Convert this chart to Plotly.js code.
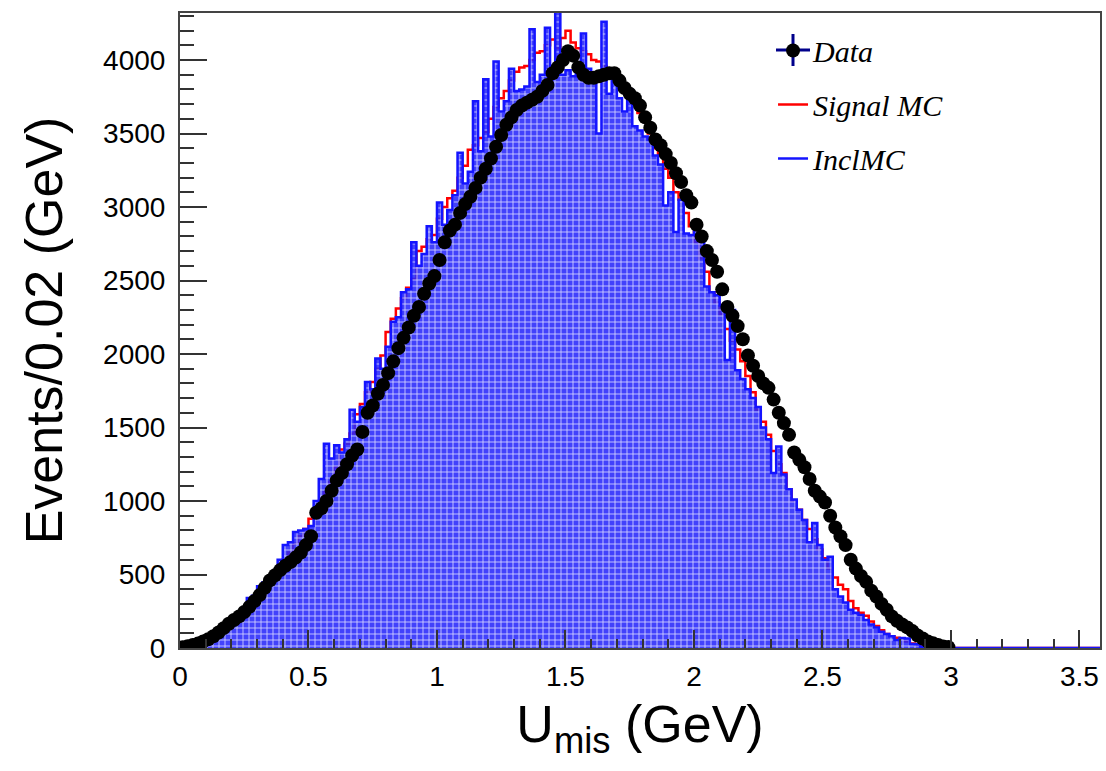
<!DOCTYPE html>
<html>
<head>
<meta charset="utf-8">
<script src="https://cdn.plot.ly/plotly-3.0.1.min.js"></script>
<style>
  html, body { margin: 0; padding: 0; background: #ffffff; }
  #chart { width: 1106px; height: 771px; }
</style>
</head>
<body>
<div id="chart"></div>
<script>
// ---- Histogram binning (GeV) ----
const binLow = 0.0;
const binWidth = 0.02;
const histEnd = 3.6;   // histogram range upper edge (bins beyond the data are empty)

// ---- Data (events per 0.02 GeV bin, bins from 0.00 to 3.00) ----
const dataCounts = [
  5, 12, 20, 30, 45, 60, 80, 105, 135, 165,
  190, 215, 245, 280, 320, 360, 410, 460, 495, 530,
  560, 585, 615, 650, 700, 760, 920, 950, 1000, 1070,
  1140, 1190, 1250, 1310, 1350, 1470, 1600, 1650, 1730, 1790,
  1870, 1950, 2040, 2110, 2180, 2260, 2320, 2410, 2480, 2530,
  2640, 2760, 2840, 2880, 2960, 3020, 3070, 3130, 3200, 3260,
  3330, 3410, 3490, 3560, 3610, 3660, 3690, 3710, 3730, 3750,
  3790, 3830, 3910, 3950, 4000, 4060, 4030, 3950, 3900, 3880,
  3880, 3890, 3900, 3910, 3910, 3860, 3810, 3770, 3740, 3690,
  3610, 3540, 3460, 3420, 3360, 3300, 3230, 3170, 3080, 3030,
  2880, 2800, 2700, 2640, 2560, 2440, 2320, 2260, 2190, 2100,
  1990, 1920, 1850, 1800, 1770, 1690, 1600, 1530, 1450, 1330,
  1280, 1230, 1150, 1070, 1030, 990, 900, 820, 760, 700,
  600, 540, 490, 450, 390, 350, 300, 260, 215, 185,
  160, 140, 115, 85, 65, 45, 32, 20, 10, 6
];

// ---- Signal MC ----
const signalMC = [
  3, 8, 15, 25, 38, 50, 60, 85, 115, 150,
  175, 200, 235, 280, 330, 360, 400, 430, 480, 540,
  600, 650, 710, 760, 810, 880, 930, 1000, 1060, 1130,
  1230, 1350, 1390, 1460, 1590, 1660, 1740, 1810, 1900, 1990,
  2150, 2240, 2310, 2380, 2450, 2510, 2700, 2730, 2780, 2810,
  2920, 3000, 3060, 3110, 3200, 3280, 3390, 3420, 3470, 3510,
  3600, 3680, 3740, 3790, 3860, 3920, 3950, 3960, 4000, 4050,
  4060, 4100, 4140, 4080, 4150, 4200, 4120, 4080, 4060, 4040,
  4000, 3990, 3960, 3940, 3880, 3850, 3800, 3760, 3700, 3640,
  3590, 3500, 3400, 3350, 3260, 3200, 3100, 3050, 2960, 2870,
  2760, 2650, 2560, 2420, 2350, 2270, 2170, 2090, 2030, 1950,
  1850, 1740, 1620, 1540, 1450, 1340, 1250, 1190, 1080, 1000,
  940, 870, 810, 740, 670, 610, 540, 480, 430, 400,
  320, 270, 240, 220, 180, 150, 120, 95, 80, 70,
  65, 45, 30, 18, 10, 5, 2, 1, 0, 0
];

// ---- Inclusive MC ----
const inclMC = [
  10, 15, 25, 40, 60, 75, 85, 100, 150, 165,
  175, 195, 270, 340, 355, 420, 445, 455, 470, 600,
  700, 720, 790, 800, 810, 830, 1000, 1150, 1390, 1290,
  1380, 1330, 1420, 1620, 1540, 1640, 1810, 1760, 1970, 1900,
  2050, 2220, 2250, 2420, 2440, 2760, 2600, 2680, 2870, 2760,
  3030, 2880, 2980, 3080, 3370, 3160, 3240, 3720, 3380, 3870,
  3480, 3990, 3650, 3720, 3940, 3790, 3800, 3820, 4210, 3850,
  3900, 4220, 3960, 4330, 3900, 3930, 3890, 3950, 4180, 3940,
  3900, 3500, 4260, 3770, 3870, 3740, 3650, 3800, 3550, 3520,
  3480, 3460, 3350, 3290, 3010, 3100, 2830, 3050, 2820, 2810,
  2890, 2780, 2460, 2420, 2400, 2330, 1960, 2300, 1890, 1830,
  1760, 1700, 1640, 1500, 1420, 1190, 1370, 1180, 1080, 1010,
  940, 870, 720, 850, 700, 600, 620, 400, 350, 310,
  260, 240, 225, 190, 160, 140, 110, 95, 80, 55,
  68, 65, 27, 25, 8, 3, 0, 0, 0, 0
];

// ---- Names / labels ----
const seriesNames = ['Data', 'Signal MC', 'InclMC'];
const xTickVals = [0, 0.5, 1, 1.5, 2, 2.5, 3, 3.5];
const xTickText = ['0', '0.5', '1', '1.5', '2', '2.5', '3', '3.5'];
const yTickVals = [0, 500, 1000, 1500, 2000, 2500, 3000, 3500, 4000];
const yTickText = ['0', '500', '1000', '1500', '2000', '2500', '3000', '3500', '4000'];
const xTitle = 'U<sub>mis</sub> (GeV)';
const yTitle = 'Events/0.02 (GeV)';

// ---- Build step outlines from bin edges ----
const centers = dataCounts.map((_, i) => binLow + binWidth * (i + 0.5));
function stepXY(counts) {
  const xs = [binLow], ys = [0];
  counts.forEach((v, i) => { xs.push(binLow + binWidth * i); ys.push(v); });
  xs.push(binLow + binWidth * counts.length); ys.push(0);
  xs.push(histEnd); ys.push(0);
  return { xs, ys };
}
const sig = stepXY(signalMC);
const inc = stepXY(inclMC);

const RED = '#ff0000';
const BLUE = '#1414ff';
const ERRBLUE = '#00008b';

const traces = [
  {
    type: 'scatter', mode: 'lines', name: seriesNames[1],
    x: sig.xs, y: sig.ys,
    line: { color: RED, width: 2.5, shape: 'hv' },
    showlegend: false, hoverinfo: 'skip'
  },
  {
    type: 'scatter', mode: 'lines', name: seriesNames[2],
    x: inc.xs, y: inc.ys,
    line: { color: BLUE, width: 2.5, shape: 'hv' },
    fill: 'tozeroy',
    fillcolor: 'rgba(30,30,255,0.85)',
    fillpattern: { shape: '+', fgcolor: 'rgba(235,235,255,0.9)', bgcolor: 'rgba(40,40,250,0.88)', size: 6, solidity: 0.25 },
    showlegend: false, hoverinfo: 'skip'
  },
  {
    type: 'scatter', mode: 'markers', name: seriesNames[0],
    x: centers, y: dataCounts,
    marker: { color: '#000000', size: 14, symbol: 'circle' },
    legendgroup: 'g1', legendrank: 1
  },
  // legend entries for the MC histograms (line icons)
  {
    type: 'scatter', mode: 'lines', name: seriesNames[1],
    x: [null], y: [null], line: { color: RED, width: 2.5 },
    legendgroup: 'g2', legendrank: 2
  },
  {
    type: 'scatter', mode: 'lines', name: seriesNames[2],
    x: [null], y: [null], line: { color: BLUE, width: 2.5 },
    legendgroup: 'g3', legendrank: 3
  }
];

const axisFont = { family: 'Liberation Sans, Arial, Helvetica, sans-serif', size: 28, color: '#000' };
const titleFont = { family: 'Liberation Sans, Arial, Helvetica, sans-serif', size: 52, color: '#000' };

// legend icon position (pixels in the figure) for the error-bar cross of the Data entry
const W = 1106, H = 771, ML = 180, MR = 6, MT = 13, MB = 123;
const pw = W - ML - MR, ph = H - MT - MB;
const crossCx = 793, crossCy = 50, crossHalfW = 17, crossHalfH = 16;
const px2x = p => (p - ML) / pw;
const py2y = p => (H - MB - p) / ph;

const layout = {
  width: W, height: H,
  paper_bgcolor: '#ffffff', plot_bgcolor: '#ffffff',
  margin: { l: ML, r: MR, t: MT, b: MB, pad: 0 },
  showlegend: true,
  legend: {
    x: 0.6446, y: 0.982, xanchor: 'left', yanchor: 'top',
    bgcolor: 'rgba(255,255,255,0)', borderwidth: 0,
    font: { family: 'Liberation Serif, Times New Roman, serif', size: 30, style: 'italic', color: '#000' },
    traceorder: 'grouped', tracegroupgap: 12
  },
  shapes: [
    { type: 'line', xref: 'paper', yref: 'paper', layer: 'above',
      x0: px2x(crossCx - crossHalfW), x1: px2x(crossCx + crossHalfW), y0: py2y(crossCy), y1: py2y(crossCy),
      line: { color: ERRBLUE, width: 3 } },
    { type: 'line', xref: 'paper', yref: 'paper', layer: 'above',
      x0: px2x(crossCx), x1: px2x(crossCx), y0: py2y(crossCy - crossHalfH), y1: py2y(crossCy + crossHalfH),
      line: { color: ERRBLUE, width: 3 } }
  ],
  xaxis: {
    range: [0, 3.58],
    tickmode: 'array', tickvals: xTickVals, ticktext: xTickText,
    ticks: 'inside', ticklen: 18, tickwidth: 2, tickcolor: '#333',
    minor: { dtick: 0.1, ticks: 'inside', ticklen: 9, tickwidth: 2, tickcolor: '#333' },
    showline: true, linecolor: '#444', linewidth: 2, mirror: true,
    showgrid: false, zeroline: false,
    tickfont: axisFont, ticklabelstandoff: 2,
    title: { text: xTitle, font: titleFont, standoff: 15 }
  },
  yaxis: {
    range: [0, 4320],
    tickmode: 'array', tickvals: yTickVals, ticktext: yTickText,
    ticks: 'inside', ticklen: 27, tickwidth: 2, tickcolor: '#333',
    minor: { dtick: 100, ticks: 'inside', ticklen: 14, tickwidth: 2, tickcolor: '#333' },
    showline: true, linecolor: '#444', linewidth: 2, mirror: true,
    showgrid: false, zeroline: false,
    tickfont: axisFont, ticklabelstandoff: 7,
    title: { text: yTitle, font: titleFont, standoff: 24 }
  }
};

Plotly.newPlot('chart', traces, layout, { displayModeBar: false, staticPlot: true });
</script>
</body>
</html>
